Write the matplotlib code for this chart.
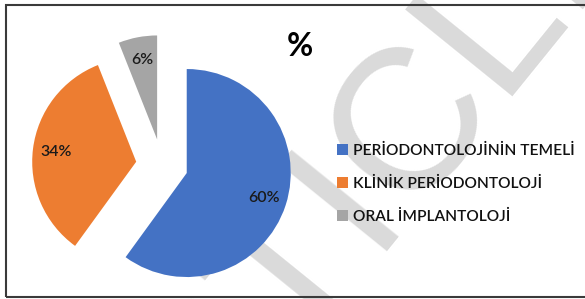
import matplotlib
matplotlib.use("Agg")
import matplotlib.pyplot as plt
from matplotlib.patches import Rectangle

plt.rcParams['font.family'] = ['Lato', 'DejaVu Sans']

# data
categories = ["PERİODONTOLOJİNİN TEMELİ", "KLİNİK PERİODONTOLOJİ", "ORAL İMPLANTOLOJİ"]
shares = [60, 34, 6]
colors = ["#4472C4", "#ED7D31", "#A5A5A5"]
title = "%"
watermark = "ARTICLE"

W, H = 585, 299
fig = plt.figure(figsize=(W / 100, H / 100), dpi=100)
ax = fig.add_axes([0, 0, 1, 1])

# axes in pixel units, y up
R = 104
cx, cy = 162, H - 165

ax.text(352, 86, watermark, rotation=51, rotation_mode='anchor',
        ha='center', va='center', fontsize=145, color='#dadada',
        family='Liberation Sans', zorder=0)

wedges, texts, autotexts = ax.pie(
    shares, explode=[0.25 * R] * len(shares), center=(cx, cy), radius=R,
    startangle=90, counterclock=False, colors=colors,
    autopct=lambda p: f"{p:.0f}%", pctdistance=0.78,
    textprops=dict(fontsize=11.5, color='#1a1a1a', fontweight='semibold'),
    wedgeprops=dict(linewidth=0, zorder=2))
for t in autotexts:
    t.set_zorder(3)

ax.text(300, H - 47, title, ha='center', va='center', fontsize=23,
        fontweight='bold', color='black', zorder=3)

leg = ax.legend(wedges, categories, loc='center left',
                bbox_to_anchor=(337 / W, 1 - 184 / H), frameon=False,
                prop=dict(size=11.2, weight='semibold'),
                handlelength=0.7, handleheight=0.7,
                handletextpad=0.3, labelspacing=1.2, borderpad=0,
                borderaxespad=0)
for txt in leg.get_texts():
    txt.set_color('#111111')

ax.add_patch(Rectangle((6, 2), W, H - 7, fill=False, edgecolor='#3a3a3a',
                       linewidth=1.5, zorder=4))

ax.set_xlim(0, W)
ax.set_ylim(0, H)
ax.axis('off')

fig.savefig("out.png", dpi=100, facecolor='white')
